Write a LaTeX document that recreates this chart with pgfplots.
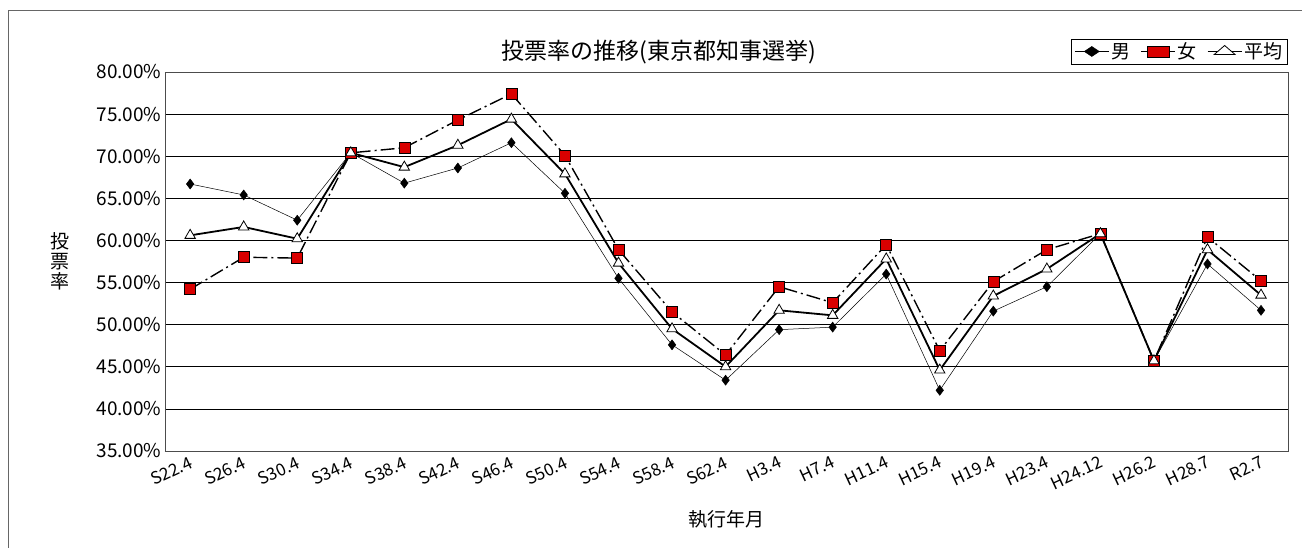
\documentclass[border=0pt]{standalone}
\usepackage{pgfplots}
\pgfplotsset{compat=1.18}
\usepackage{fontspec}
\setmainfont{Noto Sans CJK JP}
\usetikzlibrary{calc}
\begin{document}
\begin{tikzpicture}
\begin{axis}[
  scale only axis, width=1123pt, height=379pt,
  xmin=-0.47, xmax=20.5, ymin=35, ymax=80,
  ytick={35,40,...,80},
  yticklabel={\pgfmathprintnumber[fixed,fixed zerofill,precision=2]{\tick}\%},
  /pgf/number format/assume math mode=true,
  xtick={0,...,20},
  xticklabels={S22.4,S26.4,S30.4,S34.4,S38.4,S42.4,S46.4,S50.4,S54.4,S58.4,S62.4,H3.4,H7.4,H11.4,H15.4,H19.4,H23.4,H24.12,H26.2,H28.7,R2.7},
  x tick label style={rotate=25, anchor=north east, font=\fontsize{17}{17}\selectfont},
  y tick label style={font=\fontsize{19}{19}\selectfont},
  major tick length=0pt,
  ymajorgrids, grid style={black, line width=0.6pt},
  axis line style={black!70},
  title={投票率の推移(東京都知事選挙)},
  title style={font=\fontsize{23}{23}\selectfont, at={(0.44,1)}, yshift=-2pt},
  xlabel={執行年月}, xlabel style={font=\fontsize{19}{19}\selectfont, yshift=-12pt},
  ylabel={\shortstack{投\\票\\率}}, ylabel style={rotate=-90, font=\fontsize{19}{22}\selectfont, xshift=-20pt},
  legend columns=3,
  legend style={at={(1,1.02)}, anchor=south east, font=\fontsize{19}{19}\selectfont, draw=black, /tikz/every even column/.append style={column sep=8pt}},
  legend image post style={xscale=2},
  clip=false,
]
\coordinate (sw) at (rel axis cs:0,0);
\addplot[black, line width=0.5pt, mark=diamond*, mark size=5pt, mark options={solid,fill=black}] coordinates {
(0,66.7)(1,65.4)(2,62.4)(3,70.4)(4,66.8)(5,68.6)(6,71.6)(7,65.6)(8,55.5)(9,47.6)(10,43.4)(11,49.4)(12,49.7)(13,56.0)(14,42.2)(15,51.6)(16,54.5)(17,60.8)(18,45.7)(19,57.2)(20,51.7)};
\addlegendentry{男}
\addplot[black, line width=1.4pt, dash pattern=on 14pt off 4pt on 2pt off 4pt, mark=square*, mark size=5.5pt, mark options={solid,fill=red!85!black, draw=black, line width=0.6pt}] coordinates {
(0,54.2)(1,58.0)(2,57.9)(3,70.4)(4,71.0)(5,74.3)(6,77.4)(7,70.1)(8,58.9)(9,51.5)(10,46.4)(11,54.5)(12,52.6)(13,59.5)(14,46.9)(15,55.1)(16,58.9)(17,60.8)(18,45.7)(19,60.4)(20,55.2)};
\addlegendentry{女}
\addplot[black, line width=1.8pt, mark=triangle*, mark size=6pt, mark options={solid,fill=white, line width=0.8pt}] coordinates {
(0,60.6)(1,61.6)(2,60.2)(3,70.4)(4,68.7)(5,71.3)(6,74.4)(7,67.9)(8,57.3)(9,49.5)(10,45.0)(11,51.7)(12,51.1)(13,57.8)(14,44.6)(15,53.4)(16,56.6)(17,60.8)(18,45.7)(19,58.9)(20,53.5)};
\addlegendentry{平均}
\end{axis}
\pgfresetboundingbox
\path ($(sw)+(-165pt,-97pt)$) rectangle ($(sw)+(1137pt,451pt)$);
\draw[black!60] ($(sw)+(-157pt,-97pt)$) -- ($(sw)+(-157pt,441pt)$) -- ($(sw)+(1137pt,441pt)$);
\end{tikzpicture}
\end{document}
